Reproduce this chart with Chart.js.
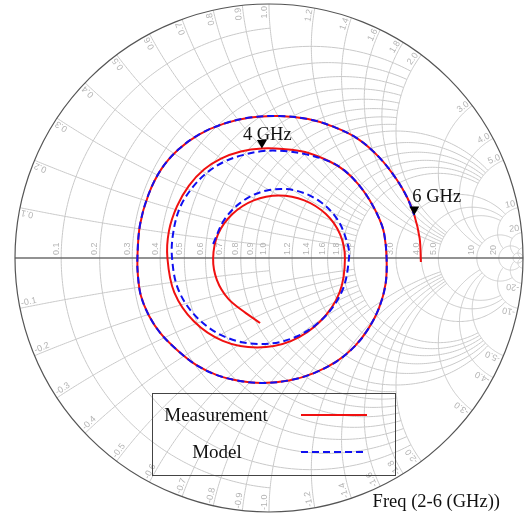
<!DOCTYPE html>
<html>
<head>
<meta charset="utf-8">
<script src="https://cdn.jsdelivr.net/npm/chart.js@4/dist/chart.umd.min.js"></script>
<style>
  html, body { margin: 0; padding: 0; background: #fff; }
  #wrap { width: 526px; height: 516px; }
</style>
</head>
<body>
<div id="wrap"><canvas id="smith" width="526" height="516"></canvas></div>
<script>
// Reflection coefficient Γ (real / imaginary) of the measured device over the sweep
const measRe = [-0.035, -0.091, -0.160, -0.205, -0.220, -0.201, -0.144, -0.060, 0.039, 0.139, 0.224, 0.280, 0.299,
  0.278, 0.202, 0.088, -0.047, -0.182, -0.296, -0.373, -0.400,
  -0.394, -0.362, -0.315, -0.256, -0.189, -0.111, -0.028, 0.055, 0.142, 0.241, 0.299, 0.352, 0.396, 0.434, 0.453, 0.463,
  0.459, 0.433, 0.390, 0.339, 0.268, 0.177, 0.079, -0.026, -0.114, -0.205, -0.287, -0.362, -0.425, -0.472, -0.504, -0.516, -0.518,
  -0.508, -0.474, -0.424, -0.357, -0.276, -0.180, -0.074, 0.039, 0.154, 0.253, 0.350, 0.435, 0.504, 0.545, 0.572, 0.593, 0.598];
const measIm = [-0.256, -0.217, -0.161, -0.087, -0.002, 0.093, 0.173, 0.227, 0.246, 0.227, 0.173, 0.093, -0.002,
  -0.135, -0.249, -0.326, -0.352, -0.326, -0.249, -0.135, 0.000,
  0.106, 0.204, 0.285, 0.348, 0.391, 0.419, 0.431, 0.429, 0.417, 0.379, 0.343, 0.290, 0.228, 0.155, 0.098, 0.000,
  -0.102, -0.197, -0.280, -0.346, -0.406, -0.453, -0.482, -0.492, -0.484, -0.461, -0.421, -0.362, -0.299, -0.228, -0.150, -0.071, 0.004,
  0.130, 0.251, 0.350, 0.427, 0.486, 0.528, 0.553, 0.559, 0.547, 0.517, 0.469, 0.395, 0.307, 0.236, 0.169, 0.078, -0.016];

// Γ of the equivalent-circuit model
const modelRe = [-0.220, -0.175, -0.102, -0.008, 0.098, 0.197, 0.269, 0.309, 0.315,
  0.289, 0.213, 0.100, -0.033, -0.167, -0.280, -0.356, -0.382,
  -0.376, -0.350, -0.301, -0.244, -0.179, -0.104, -0.023, 0.059, 0.142, 0.241, 0.299, 0.352, 0.396, 0.434, 0.453, 0.463,
  0.459, 0.433, 0.390, 0.339, 0.268, 0.177, 0.079, -0.026, -0.114, -0.205, -0.287, -0.362, -0.425, -0.472, -0.504, -0.516, -0.518,
  -0.508, -0.474, -0.424, -0.357, -0.276, -0.180, -0.074, 0.039, 0.154, 0.253, 0.350, 0.435, 0.504, 0.545, 0.572];
const modelIm = [0.055, 0.152, 0.225, 0.266, 0.267, 0.225, 0.152, 0.057, 0.000,
  -0.127, -0.238, -0.313, -0.339, -0.313, -0.238, -0.127, 0.004,
  0.106, 0.200, 0.278, 0.336, 0.378, 0.405, 0.421, 0.421, 0.409, 0.379, 0.343, 0.290, 0.228, 0.155, 0.098, 0.000,
  -0.102, -0.197, -0.280, -0.346, -0.406, -0.453, -0.482, -0.492, -0.484, -0.461, -0.421, -0.362, -0.299, -0.228, -0.150, -0.071, 0.004,
  0.130, 0.251, 0.350, 0.427, 0.486, 0.528, 0.553, 0.559, 0.547, 0.517, 0.469, 0.395, 0.307, 0.236, 0.169];

// frequency markers on the measured trace (index into meas arrays)
const markerText = ['4 GHz', '6 GHz'];
const markerIndex = [27, 68];

const seriesNames = ['Measurement', 'Model'];
const sweepText = 'Freq (2-6 (GHz))';

// Smith grid: circle values and the value where each circle is cut off
const gridValues = [50, 20, 10, 5, 4, 3, 2, 1.8, 1.6, 1.4, 1.2, 1.0, 0.9, 0.8, 0.7, 0.6, 0.5, 0.4, 0.3, 0.2, 0.1];
const gridLimits = [Infinity, 50, 20, 10, 10, 10, 5, 5, 5, 5, 5, 5, 2, 2, 2, 2, 2, 2, 2, 2, 1];

const pts = (re, im) => re.map((v, i) => ({ x: v, y: im[i] }));

// z = r + jx  ->  Γ
function gammaOf(r, x) {
  const den = (r + 1) * (r + 1) + x * x;
  return [(r * r - 1 + x * x) / den, (2 * x) / den];
}
function fmt(v) { return v < 10 ? v.toFixed(1) : String(v); }

function polyline(ctx, P, list) {
  ctx.beginPath();
  list.forEach((g, i) => {
    const p = P(g[0], g[1]);
    i ? ctx.lineTo(p[0], p[1]) : ctx.moveTo(p[0], p[1]);
  });
  ctx.stroke();
}
function resistanceCircle(ctx, P, r, lim) {
  const c = r / (1 + r), rho = 1 / (1 + r);
  let t0 = 0;
  if (isFinite(lim)) { const g = gammaOf(r, lim); t0 = Math.atan2(g[1], g[0] - c); }
  const n = 240, list = [];
  for (let i = 0; i <= n; i++) {
    const a = t0 + (2 * Math.PI - 2 * t0) * i / n;
    list.push([c + rho * Math.cos(a), rho * Math.sin(a)]);
  }
  polyline(ctx, P, list);
}
function reactanceArc(ctx, P, x, lim) {
  const s = Math.sign(x), ax = Math.abs(x), cy = 1 / ax, rho = 1 / ax;
  const TAU = 2 * Math.PI;
  const g0 = gammaOf(0, ax), g1 = isFinite(lim) ? gammaOf(lim, ax) : [1, 0];
  let a0 = (Math.atan2(g0[1] - cy, g0[0] - 1) + TAU) % TAU;
  let a1 = (Math.atan2(g1[1] - cy, g1[0] - 1) + TAU) % TAU;
  if (a1 < a0) a1 += TAU;
  const n = 160, list = [];
  for (let i = 0; i <= n; i++) {
    const a = a0 + (a1 - a0) * i / n;
    list.push([1 + rho * Math.cos(a), s * (cy + rho * Math.sin(a))]);
  }
  polyline(ctx, P, list);
}

const smithPlugin = {
  id: 'smithChart',
  beforeDatasetsDraw(chart) {
    const { ctx, scales: { x: sx, y: sy } } = chart;
    const P = (gx, gy) => [sx.getPixelForValue(gx), sy.getPixelForValue(gy)];
    const C = P(0, 0), R = sx.getPixelForValue(1) - C[0];
    ctx.save();
    ctx.strokeStyle = '#c9c9c9';
    ctx.lineWidth = 1;
    gridValues.forEach((v, i) => {
      resistanceCircle(ctx, P, v, gridLimits[i]);
      reactanceArc(ctx, P, v, gridLimits[i]);
      reactanceArc(ctx, P, -v, gridLimits[i]);
    });
    // real axis
    ctx.strokeStyle = '#6e6e6e';
    ctx.lineWidth = 1.4;
    ctx.beginPath(); ctx.moveTo(C[0] - R, C[1]); ctx.lineTo(C[0] + R, C[1]); ctx.stroke();
    // outer boundary |Γ| = 1
    ctx.strokeStyle = '#555';
    ctx.lineWidth = 1.2;
    ctx.beginPath(); ctx.arc(C[0], C[1], R, 0, 2 * Math.PI); ctx.stroke();

    // grid labels
    ctx.fillStyle = '#b4b4b4';
    ctx.font = '9px "Liberation Sans", Arial, sans-serif';
    ctx.textBaseline = 'bottom';
    gridValues.forEach(v => {
      if (v > 20) return;
      // resistance labels along the real axis
      const a = P((v - 1) / (v + 1), 0);
      ctx.save();
      ctx.translate(a[0] - 0.5, a[1] - 3);
      ctx.rotate(-Math.PI / 2);
      ctx.textAlign = 'left';
      ctx.fillText(fmt(v), 0, 0);
      ctx.restore();
      // reactance labels around the rim
      [v, -v].forEach(x => {
        const g = gammaOf(0, x), p = P(g[0], g[1]);
        const ux = (p[0] - C[0]) / R, uy = (p[1] - C[1]) / R;
        ctx.save();
        ctx.translate(p[0] - ux * 2, p[1] - uy * 2);
        if (x > 0) { ctx.rotate(Math.atan2(uy, ux)); ctx.textAlign = 'right'; ctx.fillText(fmt(x), 0, 0); }
        else { ctx.rotate(Math.atan2(-uy, -ux)); ctx.textAlign = 'left'; ctx.fillText('-' + fmt(-x), 0, 0); }
        ctx.restore();
      });
    });
    ctx.restore();
  },
  afterDatasetsDraw(chart, args, opts) {
    const { ctx, scales: { x: sx, y: sy } } = chart;
    ctx.save();
    // frequency markers
    const meas = chart.data.datasets[1].data;
    markerIndex.forEach((idx, k) => {
      const px = sx.getPixelForValue(meas[idx].x), py = sy.getPixelForValue(meas[idx].y);
      ctx.fillStyle = '#000';
      ctx.beginPath();
      ctx.moveTo(px, py); ctx.lineTo(px - 5, py - 8.5); ctx.lineTo(px + 5, py - 8.5); ctx.closePath();
      ctx.fill();
      ctx.font = '18.5px "Liberation Serif", "Times New Roman", serif';
      ctx.textAlign = 'left'; ctx.textBaseline = 'alphabetic';
      ctx.fillStyle = '#111';
      const off = opts.markerOffsets[k];
      ctx.fillText(markerText[k], px + off[0], py + off[1]);
    });
    // legend
    const b = opts.legendBox;
    ctx.strokeStyle = '#444'; ctx.lineWidth = 1;
    ctx.strokeRect(b.x + 0.5, b.y + 0.5, b.w, b.h);
    ctx.font = '19px "Liberation Serif", "Times New Roman", serif';
    ctx.fillStyle = '#111';
    ctx.textBaseline = 'alphabetic';
    const rows = [chart.data.datasets[1], chart.data.datasets[0]];
    rows.forEach((ds, i) => {
      const row = opts.legendRows[i];
      ctx.textAlign = 'center';
      ctx.fillText(ds.label, row.textX, row.baseline);
      ctx.strokeStyle = ds.borderColor; ctx.lineWidth = ds.borderWidth;
      ctx.setLineDash(ds.borderDash || []);
      ctx.beginPath(); ctx.moveTo(row.x0, row.lineY); ctx.lineTo(row.x1, row.lineY); ctx.stroke();
      ctx.setLineDash([]);
    });
    // sweep annotation
    ctx.font = '18.5px "Liberation Serif", "Times New Roman", serif';
    ctx.textAlign = 'right';
    ctx.fillStyle = '#111';
    ctx.fillText(sweepText, opts.sweepPos[0], opts.sweepPos[1]);
    ctx.restore();
  }
};

new Chart(document.getElementById('smith'), {
  type: 'scatter',
  data: {
    datasets: [
      { label: seriesNames[1], data: pts(modelRe, modelIm), showLine: true, borderColor: '#1010f0',
        borderWidth: 2, borderDash: [7, 4], pointRadius: 0, tension: 0.35, order: 1 },
      { label: seriesNames[0], data: pts(measRe, measIm), showLine: true, borderColor: '#f01010',
        borderWidth: 2, pointRadius: 0, tension: 0.35, order: 2 }
    ]
  },
  options: {
    responsive: false,
    animation: false,
    devicePixelRatio: 1,
    layout: { padding: { left: 15, right: 3, top: 4, bottom: 4 } },
    scales: {
      x: { type: 'linear', min: -1, max: 1, display: false },
      y: { type: 'linear', min: -1, max: 1, display: false }
    },
    plugins: {
      legend: { display: false },
      tooltip: { enabled: false },
      smithChart: {
        markerOffsets: [[-19, -9], [-2, -13]],
        legendBox: { x: 152, y: 393, w: 243, h: 82 },
        legendRows: [
          { textX: 216, baseline: 421, x0: 301, x1: 367, lineY: 415 },
          { textX: 217, baseline: 458, x0: 301, x1: 367, lineY: 452 }
        ],
        sweepPos: [500, 507]
      }
    }
  },
  plugins: [smithPlugin]
});
</script>
</body>
</html>
